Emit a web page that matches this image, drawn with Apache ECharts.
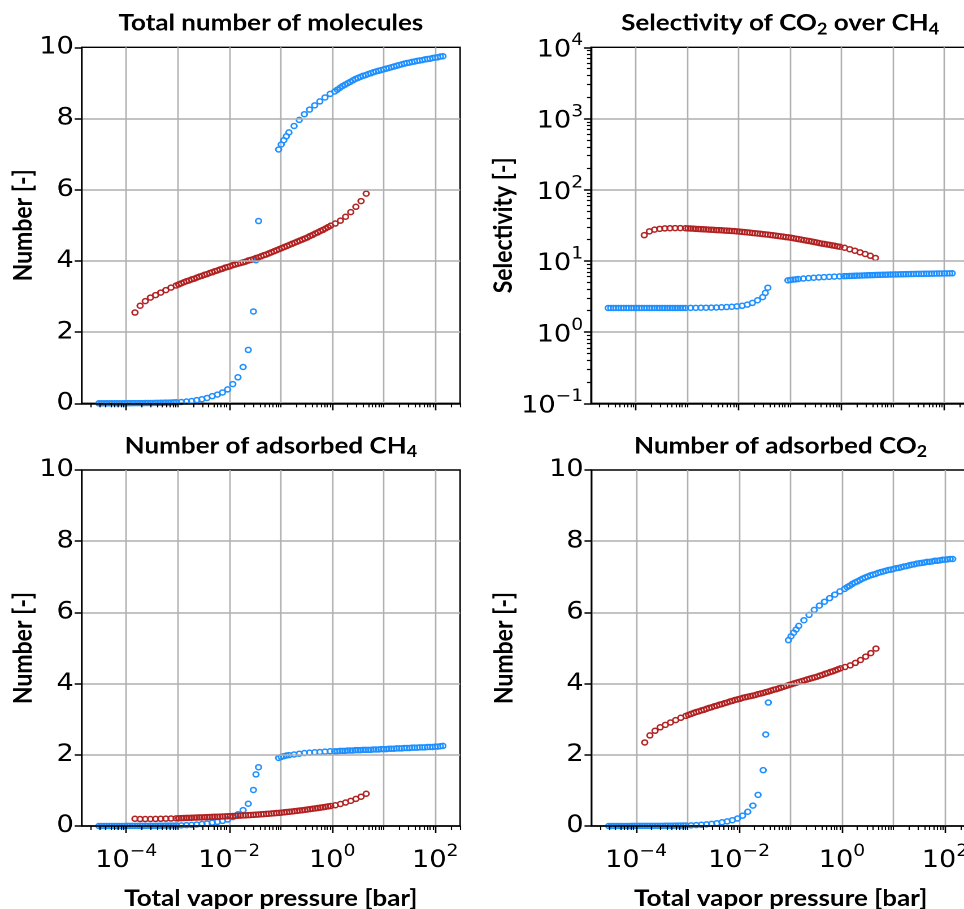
<!DOCTYPE html>
<html><head><meta charset="utf-8">
<script src="https://cdn.jsdelivr.net/npm/echarts@6/dist/echarts.min.js"></script>
<style>
html,body{margin:0;padding:0;background:#fff;overflow:hidden}
#wrap{width:964px;height:909px;overflow:hidden;position:relative}
#c{width:853px;height:909px;transform:scaleX(1.130129);transform-origin:0 0}
</style>
</head><body><div id="wrap"><div id="c"></div></div>
<script>
// ---------- data (x stored as log10 of total vapor pressure in bar) ----------
const blueLogP = [
-4.53,-4.48,-4.43,-4.38,-4.33,-4.28,-4.23,-4.18,-4.13,-4.08,
-4.03,-3.98,-3.93,-3.88,-3.83,-3.78,-3.73,-3.68,-3.63,-3.58,
-3.53,-3.48,-3.43,-3.38,-3.33,-3.28,-3.23,-3.18,-3.13,-3.08,-3.03,
-2.93,-2.83,-2.73,-2.63,-2.53,-2.43,-2.33,-2.23,-2.13,-2.03,-1.93,-1.83,-1.73,-1.63,-1.53,-1.48,-1.43,
-1.04,-0.99,-0.94,-0.89,-0.84,-0.74,-0.64,-0.54,-0.44,-0.34,-0.24,-0.14,-0.04,
0.05,0.10,0.15,0.20,0.25,0.30,0.35,0.40,0.45,0.50,
0.55,0.60,0.65,0.70,0.75,0.80,0.85,0.90,0.95,1.00,
1.05,1.10,1.15,1.20,1.25,1.30,1.35,1.40,1.45,1.50,
1.55,1.60,1.65,1.70,1.75,1.80,1.85,1.90,1.95,2.00,
2.05,2.10,2.15];
const blueTotal = [
0.001,0.001,0.001,0.001,0.001,0.002,0.002,0.002,0.002,0.003,0.003,0.003,0.004,0.004,0.005,0.005,
0.006,0.006,0.007,0.008,0.009,0.010,0.011,0.013,0.014,0.016,0.018,0.020,0.023,0.025,0.028,
0.035,0.05,0.065,0.09,0.115,0.15,0.20,0.245,0.305,0.39,0.54,0.73,1.02,1.50,2.58,4.02,5.12,
7.13,7.27,7.39,7.50,7.61,7.79,7.96,8.12,8.25,8.37,8.48,8.59,8.69,
8.76,8.81,8.86,8.91,8.95,8.99,9.03,9.07,9.11,9.14,9.17,9.20,9.22,9.25,9.27,9.30,9.32,9.34,9.36,9.38,
9.40,9.42,9.44,9.46,9.48,9.50,9.52,9.54,9.56,9.57,9.59,9.60,9.62,9.63,9.64,9.66,9.67,9.68,9.70,9.71,
9.72,9.74,9.75];
const blueSel = [
2.18,2.18,2.18,2.18,2.18,2.18,2.18,2.18,2.18,2.18,2.18,2.18,2.18,2.18,2.18,2.18,
2.18,2.18,2.18,2.18,2.18,2.18,2.18,2.18,2.18,2.18,2.18,2.18,2.18,2.18,2.18,
2.19,2.19,2.20,2.20,2.21,2.22,2.23,2.25,2.27,2.30,2.34,2.43,2.57,2.80,3.10,3.55,4.20,
5.33,5.40,5.46,5.51,5.56,5.65,5.73,5.80,5.86,5.92,5.97,6.02,6.06,
6.10,6.12,6.14,6.16,6.18,6.20,6.22,6.24,6.26,6.28,6.30,6.32,6.34,6.36,6.37,6.39,6.40,6.42,6.43,6.45,
6.46,6.47,6.49,6.50,6.51,6.52,6.54,6.55,6.56,6.57,6.58,6.59,6.60,6.61,6.62,6.63,6.64,6.65,6.66,6.67,
6.68,6.69,6.70];
const blueCH4 = [
0.000,0.000,0.001,0.001,0.001,0.001,0.001,0.001,0.001,0.001,0.001,0.002,0.002,0.002,0.002,0.002,
0.003,0.003,0.003,0.004,0.004,0.005,0.005,0.006,0.007,0.008,0.009,0.010,0.011,0.012,0.013,
0.017,0.024,0.031,0.043,0.055,0.071,0.095,0.115,0.143,0.181,0.249,0.330,0.446,0.625,1.012,1.449,1.652,
1.91,1.94,1.96,1.98,1.99,2.01,2.03,2.05,2.06,2.07,2.08,2.09,2.10,
2.10,2.10,2.11,2.11,2.11,2.12,2.12,2.12,2.13,2.13,2.13,2.14,2.14,2.14,2.14,2.15,2.15,2.15,2.16,2.16,
2.16,2.17,2.17,2.17,2.18,2.18,2.18,2.19,2.19,2.19,2.20,2.20,2.20,2.21,2.21,2.21,2.22,2.22,2.22,2.23,
2.23,2.24,2.25];
const blueCO2 = [
0.001,0.001,0.001,0.001,0.001,0.001,0.001,0.001,0.001,0.002,0.002,0.002,0.002,0.002,0.003,0.003,
0.003,0.003,0.004,0.004,0.005,0.005,0.006,0.007,0.007,0.008,0.009,0.010,0.012,0.013,0.015,
0.018,0.026,0.034,0.047,0.060,0.079,0.105,0.130,0.162,0.209,0.291,0.400,0.574,0.875,1.568,2.571,3.468,
5.22,5.33,5.43,5.52,5.62,5.78,5.93,6.07,6.19,6.30,6.40,6.50,6.59,
6.66,6.71,6.75,6.80,6.84,6.87,6.91,6.95,6.98,7.01,7.04,7.06,7.08,7.11,7.13,7.15,7.17,7.19,7.20,7.22,
7.24,7.25,7.27,7.29,7.30,7.32,7.34,7.35,7.37,7.38,7.39,7.40,7.42,7.42,7.43,7.45,7.45,7.46,7.48,7.48,
7.49,7.50,7.50];

const redLogP = [
-3.83,-3.73,-3.63,-3.53,-3.43,-3.33,-3.23,-3.13,-3.03,
-2.98,-2.93,-2.88,-2.83,-2.78,-2.73,-2.68,-2.63,-2.58,-2.53,
-2.48,-2.43,-2.38,-2.33,-2.28,-2.23,-2.18,-2.13,-2.08,-2.03,
-1.98,-1.93,-1.88,-1.83,-1.78,-1.73,-1.68,-1.63,-1.58,-1.53,
-1.48,-1.43,-1.38,-1.33,-1.28,-1.23,-1.18,-1.13,-1.08,-1.03,
-0.98,-0.93,-0.88,-0.83,-0.78,-0.73,-0.68,-0.63,-0.58,-0.53,
-0.48,-0.43,-0.38,-0.33,-0.28,-0.23,-0.18,-0.13,-0.08,-0.03,
0.06,0.16,0.26,0.36,0.46,0.56,0.66];
const redTotal = [
2.55,2.74,2.87,2.97,3.04,3.11,3.18,3.25,3.31,
3.34,3.37,3.40,3.43,3.45,3.48,3.50,3.53,3.56,3.58,
3.61,3.63,3.66,3.68,3.71,3.73,3.76,3.78,3.81,3.83,
3.85,3.88,3.90,3.92,3.94,3.96,3.98,4.01,4.03,4.05,
4.08,4.10,4.13,4.16,4.18,4.21,4.24,4.27,4.30,4.33,
4.36,4.39,4.42,4.45,4.48,4.51,4.54,4.57,4.60,4.63,
4.66,4.70,4.73,4.77,4.80,4.84,4.87,4.91,4.95,4.99,
5.05,5.13,5.24,5.37,5.52,5.68,5.89];
const redSel = [
23.0,26.0,27.5,28.2,28.6,28.8,28.9,28.9,28.8,
28.6,28.5,28.4,28.2,28.1,27.9,27.8,27.7,27.5,27.4,
27.3,27.1,27.0,26.9,26.7,26.6,26.5,26.3,26.2,26.0,
25.8,25.6,25.4,25.2,25.0,24.7,24.5,24.3,24.1,23.8,
23.6,23.4,23.1,22.9,22.6,22.4,22.1,21.9,21.6,21.4,
21.1,20.8,20.5,20.2,19.9,19.6,19.3,19.0,18.7,18.4,
18.1,17.8,17.5,17.3,17.0,16.8,16.5,16.3,16.0,15.8,
15.3,14.6,13.9,13.2,12.5,11.8,11.0];
const redCH4 = [
0.204,0.196,0.195,0.197,0.199,0.202,0.206,0.210,0.215,
0.218,0.221,0.224,0.227,0.229,0.233,0.235,0.238,0.241,0.244,
0.246,0.249,0.252,0.255,0.259,0.261,0.264,0.267,0.270,0.274,
0.277,0.281,0.285,0.288,0.292,0.297,0.300,0.305,0.309,0.314,
0.319,0.323,0.329,0.334,0.340,0.345,0.352,0.357,0.364,0.370,
0.377,0.385,0.393,0.401,0.409,0.418,0.426,0.435,0.444,0.454,
0.464,0.475,0.485,0.494,0.505,0.515,0.526,0.537,0.550,0.561,
0.584,0.618,0.659,0.707,0.761,0.823,0.906];
const redCO2 = [
2.346,2.544,2.675,2.773,2.841,2.908,2.974,3.040,3.095,
3.122,3.149,3.176,3.203,3.221,3.247,3.265,3.292,3.319,3.336,
3.364,3.381,3.408,3.425,3.451,3.469,3.496,3.513,3.540,3.556,
3.573,3.599,3.615,3.632,3.648,3.663,3.680,3.705,3.721,3.736,
3.761,3.777,3.801,3.826,3.840,3.865,3.888,3.913,3.936,3.960,
3.983,4.005,4.027,4.049,4.071,4.092,4.114,4.135,4.156,4.176,
4.196,4.225,4.245,4.276,4.295,4.325,4.344,4.373,4.400,4.429,
4.466,4.512,4.581,4.663,4.759,4.857,4.984];

// ---------- ticks ----------
const xLabelExps = [-4, -2, 0, 2];
const xDecadeExps = [-4, -3, -2, -1, 0, 1, 2];
const xOddDecadeExps = [-3, -1, 1];
const xMinorDecades = [-5, -4, -3, -2, -1, 0, 1, 2];
const minorMults = [2, 3, 4, 5, 6, 7, 8, 9];
const yNumTicks = [0, 2, 4, 6, 8, 10];
const ySelExps = [-1, 0, 1, 2, 3, 4];
const ySelMinorDecades = [-1, 0, 1, 2, 3];

// layout (reference pixels; the drawing is stretched horizontally by K like the reference)
const K = 964 / 853;
const XMIN = Math.pow(10, -4.864), XMAX = Math.pow(10, 2.484);
const BLUE = '#1E90FF', RED = '#B22222';
const GW = 378.4 / K, GH = 356;

const pw = e => Math.pow(10, e);
const xLabelVals = xLabelExps.map(pw);
const xDecadeVals = xDecadeExps.map(pw);
const xMinorVals = xOddDecadeExps.map(pw);
xMinorDecades.forEach(d => minorMults.forEach(m => { const v = m * pw(d); if (v > XMIN && v < XMAX) xMinorVals.push(v); }));
const ySelVals = ySelExps.map(pw);
const ySelMinorVals = [];
ySelMinorDecades.forEach(d => minorMults.forEach(m => ySelMinorVals.push(m * pw(d))));

function supLabel(v) {
  const e = Math.round(Math.log10(v));
  return '{b|10}{s|' + (e < 0 ? '\u2212' + (-e) : String(e)) + '}';
}
const supRich = {
  b: { fontFamily: 'DejaVu Sans', fontSize: 24, color: '#000', lineHeight: 30, verticalAlign: 'bottom' },
  s: { fontFamily: 'DejaVu Sans', fontSize: 16.5, color: '#000', lineHeight: 13, verticalAlign: 'top' }
};
const nameStyle = { fontFamily: 'Lato', fontWeight: 'bold', fontSize: 23, color: '#000' };
const titleStyle = {
  fontFamily: 'Lato', fontWeight: 'bold', fontSize: 23, color: '#000', lineHeight: 28,
  rich: { sub: { fontFamily: 'Lato', fontWeight: 'bold', fontSize: 16, color: '#000', lineHeight: 14, verticalAlign: 'bottom' } }
};

const toPts = (xs, ys) => xs.map((e, i) => [pw(e), ys[i]]);

const panels = [
  { left: 81.7, top: 47.3, title: 'Total number of molecules', log: false, yName: 'Number [-]', yGap: 40, xLabels: false, b: blueTotal, r: redTotal },
  { left: 591, top: 47.3, title: 'Selectivity of CO{sub|2} over CH{sub|4}', log: true, yName: 'Selectivity [-]', yGap: 66, xLabels: false, b: blueSel, r: redSel },
  { left: 81.7, top: 470, title: 'Number of adsorbed CH{sub|4}', log: false, yName: 'Number [-]', yGap: 40, xLabels: true, b: blueCH4, r: redCH4 },
  { left: 591.5, top: 470, title: 'Number of adsorbed CO{sub|2}', log: false, yName: 'Number [-]', yGap: 66, xLabels: true, b: blueCO2, r: redCO2 }
];

const grids = [], xAxes = [], yAxes = [], series = [], titles = [];
const hLine = { color: '#000', width: 1.5 };
const vLine = { color: '#000', width: 1.5 / K };
panels.forEach((p, i) => {
  const L = p.left / K;
  grids.push({ left: L, top: p.top, width: GW, height: GH, show: true, borderColor: '#000', borderWidth: 1.4,
    backgroundColor: 'rgba(0,0,0,0)', containLabel: false, outerBoundsMode: 'none' });
  const xi = xAxes.length;
  xAxes.push({
    type: 'log', logBase: 10, gridIndex: i, position: 'bottom', min: XMIN, max: XMAX, z: 5,
    axisLine: { show: true, lineStyle: hLine },
    axisTick: { show: true, inside: false, length: 7, customValues: xLabelVals, lineStyle: vLine },
    axisLabel: { show: p.xLabels, customValues: xLabelVals, formatter: supLabel, rich: supRich, margin: 17, hideOverlap: false },
    splitLine: { show: false },
    name: p.xLabels ? 'Total vapor pressure [bar]' : '', nameLocation: 'middle', nameGap: 61,
    nameTextStyle: nameStyle, nameMoveOverlap: false
  });
  xAxes.push({
    type: 'log', logBase: 10, gridIndex: i, position: 'bottom', min: XMIN, max: XMAX, z: 1,
    axisLine: { show: false }, axisTick: { show: false, customValues: xDecadeVals },
    axisLabel: { show: false, customValues: xDecadeVals },
    splitLine: { show: true, lineStyle: { color: '#b0b0b0', width: 1.5 / K } }
  });
  xAxes.push({
    type: 'log', logBase: 10, gridIndex: i, position: 'bottom', min: XMIN, max: XMAX, z: 5,
    axisLine: { show: false },
    axisTick: { show: true, inside: false, length: 4, customValues: xMinorVals, lineStyle: { color: '#000', width: 1.2 / K } },
    axisLabel: { show: false, customValues: xMinorVals }, splitLine: { show: false }
  });
  const yi = yAxes.length;
  if (!p.log) {
    yAxes.push({
      type: 'value', gridIndex: i, position: 'left', min: yNumTicks[0], max: yNumTicks[yNumTicks.length - 1], interval: yNumTicks[1] - yNumTicks[0], z: 5,
      axisLine: { show: true, lineStyle: vLine },
      axisTick: { show: true, inside: false, length: 7 / K, lineStyle: hLine },
      axisLabel: { color: '#000', fontFamily: 'DejaVu Sans', fontSize: 24, margin: 7 },
      splitLine: { show: true, showMinLine: false, showMaxLine: false, lineStyle: { color: '#b0b0b0', width: 1.5 } },
      name: p.yName, nameLocation: 'middle', nameGap: p.yGap, nameTextStyle: nameStyle, nameMoveOverlap: false
    });
  } else {
    yAxes.push({
      type: 'log', logBase: 10, gridIndex: i, position: 'left', min: ySelVals[0], max: ySelVals[ySelVals.length - 1], z: 5,
      axisLine: { show: true, lineStyle: vLine },
      axisTick: { show: true, inside: false, length: 7 / K, customValues: ySelVals, lineStyle: hLine },
      axisLabel: { customValues: ySelVals, formatter: supLabel, rich: supRich, margin: 7 },
      splitLine: { show: true, showMinLine: false, showMaxLine: false, lineStyle: { color: '#b0b0b0', width: 1.5 } },
      name: p.yName, nameLocation: 'middle', nameGap: p.yGap, nameTextStyle: nameStyle, nameMoveOverlap: false
    });
    yAxes.push({
      type: 'log', logBase: 10, gridIndex: i, position: 'left', min: ySelVals[0], max: ySelVals[ySelVals.length - 1], z: 5,
      axisLine: { show: false },
      axisTick: { show: true, inside: false, length: 4 / K, customValues: ySelMinorVals, lineStyle: { color: '#000', width: 1.2 } },
      axisLabel: { show: false, customValues: ySelMinorVals }, splitLine: { show: false }
    });
  }
  const mk = (data, color, z) => ({
    type: 'scatter', xAxisIndex: xi, yAxisIndex: yi, data: data, symbol: 'circle', symbolSize: 5,
    itemStyle: { color: 'rgba(0,0,0,0)', borderColor: color, borderWidth: 1.5, opacity: 1 },
    silent: true, animation: false, z: z, emphasis: { disabled: true }
  });
  series.push(mk(toPts(blueLogP, p.b), BLUE, 2));
  series.push(mk(toPts(redLogP, p.r), RED, 3));
  titles.push({ text: p.title, left: L + GW / 2, top: p.top - 38, textAlign: 'center', textStyle: titleStyle, padding: 0 });
});

const chart = echarts.init(document.getElementById('c'), null, { renderer: 'canvas', devicePixelRatio: 2 });
chart.setOption({
  animation: false,
  backgroundColor: '#fff',
  title: titles,
  grid: grids,
  xAxis: xAxes,
  yAxis: yAxes,
  series: series
});
</script></body></html>
